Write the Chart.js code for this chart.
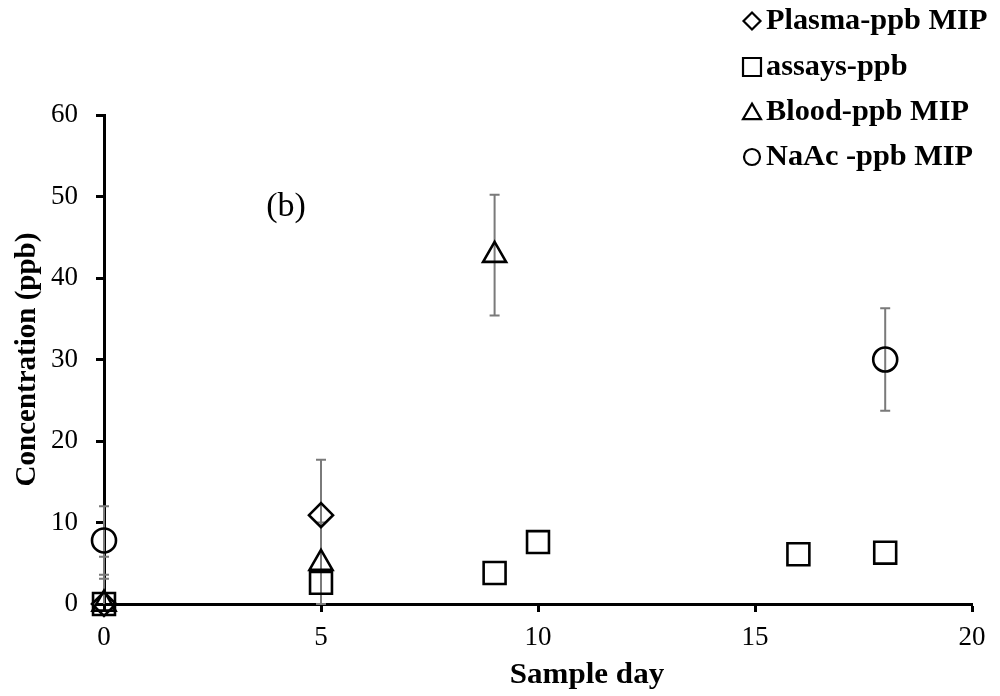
<!DOCTYPE html>
<html><head><meta charset="utf-8">
<script src="https://cdn.jsdelivr.net/npm/chart.js@4.4.0/dist/chart.umd.min.js"></script>
<style>html,body{margin:0;padding:0;background:#fff;} canvas{display:block;}</style>
</head><body>
<canvas id="c" width="1000" height="696"></canvas>
<script>
// ---- data ----
const xTicks = [0, 5, 10, 15, 20];
const yTicks = [0, 10, 20, 30, 40, 50, 60];
const seriesLabels = ['Plasma-ppb MIP', 'assays-ppb', 'Blood-ppb MIP', 'NaAc -ppb MIP'];
const plasmaDays = [0, 5];
const plasmaPpb  = [0, 10.9];
const plasmaErr  = [5.8, 6.8];
const assayDays  = [0, 5, 9, 10, 16, 18];
const assayPpb   = [0, 2.6, 3.8, 7.6, 6.1, 6.3];
const bloodDays  = [0, 5, 9];
const bloodPpb   = [0, 5, 42.8];
const bloodErr   = [3.1, 5, 7.4];
const naacDays   = [0, 18];
const naacPpb    = [7.8, 30];
const naacErr    = [4.2, 6.3];
const panelLabel = '(b)';
const xTitle = 'Sample day';
const yTitle = 'Concentration (ppb)';

const SERIF = '"Liberation Serif", "Times New Roman", serif';
const pts = (xs, ys) => xs.map((x, i) => ({x: x, y: ys[i]}));

const markerStyles = ['rectRot', 'rect', 'triangle', 'circle'];
const markerRadii = [12, 15.5, 13.3, 12];
const legendRadii = [8.5, 12.7, 10.4, 8];

function mkDataset(i, xs, ys, errs) {
  return {
    label: seriesLabels[i],
    data: pts(xs, ys),
    errorBars: errs || null,
    showLine: false,
    pointStyle: markerStyles[i],
    pointRadius: markerRadii[i],
    pointHoverRadius: markerRadii[i],
    pointBorderWidth: 2.6,
    pointBorderColor: '#000',
    pointBackgroundColor: 'rgba(0,0,0,0)',
    borderColor: '#000',
    backgroundColor: 'rgba(0,0,0,0)',
    clip: false
  };
}

const errorBarPlugin = {
  id: 'errorBars',
  beforeDatasetsDraw(chart) {
    const ctx = chart.ctx, xs = chart.scales.x, ys = chart.scales.y;
    ctx.save();
    ctx.strokeStyle = '#7a7a7a';
    ctx.lineWidth = 2;
    chart.data.datasets.forEach(ds => {
      if (!ds.errorBars) return;
      ds.data.forEach((p, i) => {
        const e = ds.errorBars[i];
        if (!e) return;
        const px = xs.getPixelForValue(p.x);
        const top = ys.getPixelForValue(p.y + e);
        const bot = ys.getPixelForValue(Math.max(p.y - e, 0));
        ctx.beginPath();
        ctx.moveTo(px, top); ctx.lineTo(px, bot);
        ctx.moveTo(px - 5, top); ctx.lineTo(px + 5, top);
        if (p.y - e >= 0) { ctx.moveTo(px - 5, bot); ctx.lineTo(px + 5, bot); }
        ctx.stroke();
      });
    });
    ctx.restore();
  }
};

function stretchedText(ctx, text, x, y, sx, align) {
  ctx.save();
  ctx.translate(x, y);
  ctx.scale(sx, 1);
  ctx.textAlign = align;
  ctx.fillText(text, 0, 0);
  ctx.restore();
}

const textPlugin = {
  id: 'texts',
  afterDraw(chart) {
    const ctx = chart.ctx;
    ctx.save();
    ctx.fillStyle = '#000';
    ctx.textBaseline = 'alphabetic';
    // x-axis title
    ctx.font = 'bold 29px ' + SERIF;
    stretchedText(ctx, xTitle, 587, 683, 1.07, 'center');
    // panel label
    ctx.font = '34px ' + SERIF;
    stretchedText(ctx, panelLabel, 286, 216, 1.0, 'center');
    // legend
    const baselines = [29, 75, 120, 165];
    chart.data.datasets.forEach((ds, i) => {
      ctx.strokeStyle = '#000';
      ctx.fillStyle = 'rgba(0,0,0,0)';
      ctx.lineWidth = 2.2;
      Chart.helpers.drawPoint(ctx, {pointStyle: markerStyles[i], radius: legendRadii[i], borderWidth: 2.2, rotation: 0},
        752, baselines[i] - 8 + (markerStyles[i] === 'triangle' ? 2 : 0));
      ctx.fillStyle = '#000';
      ctx.font = 'bold 29px ' + SERIF;
      stretchedText(ctx, ds.label, 766, baselines[i], 1.045, 'left');
    });
    ctx.restore();
  }
};

new Chart(document.getElementById('c'), {
  type: 'scatter',
  data: {
    datasets: [
      mkDataset(0, plasmaDays, plasmaPpb, plasmaErr),
      mkDataset(1, assayDays, assayPpb, null),
      mkDataset(2, bloodDays, bloodPpb, bloodErr),
      mkDataset(3, naacDays, naacPpb, naacErr)
    ]
  },
  options: {
    responsive: false,
    animation: false,
    layout: {padding: {top: 115, right: 28, left: 0, bottom: 0}},
    plugins: {legend: {display: false}, tooltip: {enabled: false}},
    scales: {
      x: {
        type: 'linear', min: xTicks[0], max: xTicks[xTicks.length - 1],
        afterBuildTicks: s => { s.ticks = xTicks.map(v => ({value: v})); },
        afterFit: s => { s.height = 92; },
        ticks: {color: '#000', font: {family: SERIF, size: 27}, padding: 10, maxRotation: 0},
        grid: {drawOnChartArea: false, drawTicks: true, tickLength: 8, tickWidth: 3, tickColor: '#000'},
        border: {display: true, color: '#000', width: 3}
      },
      y: {
        type: 'linear', min: yTicks[0], max: yTicks[yTicks.length - 1],
        afterBuildTicks: s => { s.ticks = yTicks.map(v => ({value: v})); },
        afterFit: s => { s.width = 104; },
        ticks: {color: '#000', font: {family: SERIF, size: 27}, padding: 18},
        grid: {drawOnChartArea: false, drawTicks: true, tickLength: 8, tickWidth: 3, tickColor: '#000'},
        border: {display: true, color: '#000', width: 3},
        title: {display: true, text: yTitle, color: '#000', font: {family: SERIF, size: 29, weight: 'bold'}, padding: {top: 10, bottom: 0}}
      }
    }
  },
  plugins: [errorBarPlugin, textPlugin]
});
</script>
</body></html>
